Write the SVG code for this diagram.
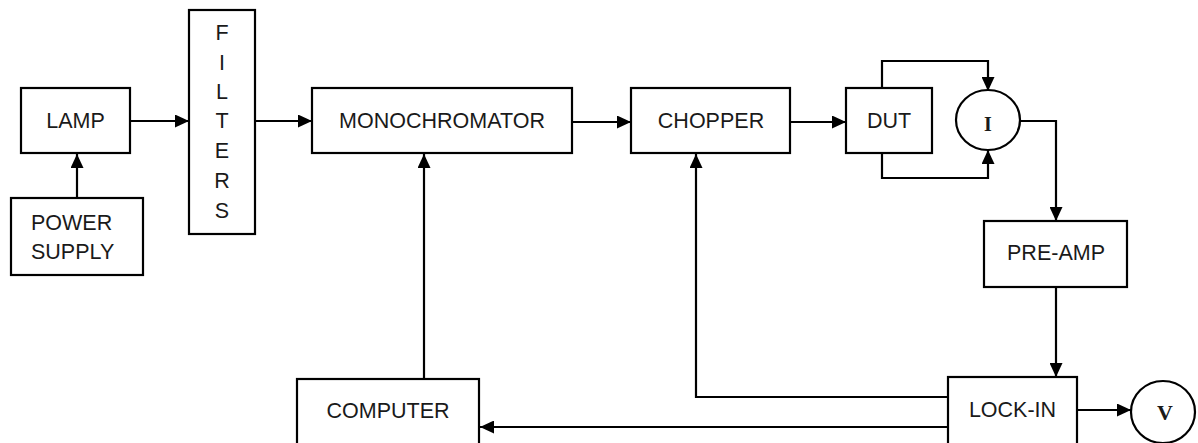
<svg xmlns="http://www.w3.org/2000/svg" width="1198" height="443" viewBox="0 0 1198 443">
<style>
.box{fill:#fff;stroke:#000;stroke-width:2.2}
.t{font-family:"Liberation Sans",Arial,sans-serif;font-size:21.5px;fill:#1a1a1a}
.c{text-anchor:middle}
.s{font-family:"Liberation Serif","Times New Roman",serif;font-weight:bold;fill:#1a1a1a;text-anchor:middle}
.ln{fill:none;stroke:#000;stroke-width:2.2;marker-end:url(#ah)}
.ln2{fill:none;stroke:#000;stroke-width:2.2}
</style>
<defs>
<marker id="ah" markerUnits="userSpaceOnUse" markerWidth="15" markerHeight="13" refX="14" refY="6.5" orient="auto">
<path d="M0,0 L14,6.5 L0,13 z" fill="#000"/>
</marker>
</defs>
<rect width="1198" height="443" fill="#fff"/>
<g id="connectors">
<path class="ln" d="M77,198 V154"/>
<path class="ln" d="M130,121 H189"/>
<path class="ln" d="M255,121 H312"/>
<path class="ln" d="M572,122 H631"/>
<path class="ln" d="M790,122 H846"/>
<path class="ln" d="M882,88 V61 H988 V91"/>
<path class="ln" d="M882,153 V178 H988 V150"/>
<path class="ln" d="M1020,121 H1056 V221"/>
<path class="ln" d="M1056,287 V377"/>
<path class="ln" d="M1077,410 H1131"/>
<path class="ln" d="M948,397 H696 V154"/>
<path class="ln" d="M948,427 H480"/>
<path class="ln" d="M424,379 V154"/>
</g>
<g id="lamp"><rect class="box" x="21" y="88" width="109" height="65"/><text class="t c" x="75.5" y="128">LAMP</text></g>
<g id="power-supply"><rect class="box" x="11" y="198" width="132" height="77"/><text class="t" x="31" y="230">POWER</text><text class="t" x="31" y="259">SUPPLY</text></g>
<g id="filters"><rect class="box" x="189" y="10" width="66" height="224"/>
<text class="t c" x="222" y="40">F</text><text class="t c" x="222" y="70">I</text><text class="t c" x="222" y="99">L</text><text class="t c" x="222" y="128">T</text><text class="t c" x="222" y="158">E</text><text class="t c" x="222" y="188">R</text><text class="t c" x="222" y="218">S</text></g>
<g id="monochromator"><rect class="box" x="312" y="88" width="260" height="65"/><text class="t c" x="442" y="128">MONOCHROMATOR</text></g>
<g id="chopper"><rect class="box" x="631" y="88" width="159" height="65"/><text class="t c" x="711" y="128">CHOPPER</text></g>
<g id="dut"><rect class="box" x="846" y="88" width="86" height="65"/><text class="t c" x="889" y="128">DUT</text></g>
<g id="current"><ellipse class="box" cx="988" cy="120" rx="32" ry="30"/><text class="s" x="988" y="131" font-size="20">I</text></g>
<g id="pre-amp"><rect class="box" x="984" y="221" width="143" height="66"/><text class="t c" x="1056" y="260">PRE-AMP</text></g>
<g id="lock-in"><rect class="box" x="948" y="377" width="129" height="75"/><text class="t c" x="1012.5" y="417">LOCK-IN</text></g>
<g id="voltage"><ellipse class="box" cx="1163" cy="412" rx="32" ry="31"/><text class="s" x="1165" y="420" font-size="22">V</text></g>
<g id="computer"><rect class="box" x="297" y="379" width="182" height="75"/><text class="t c" x="388" y="418">COMPUTER</text></g>
</svg>
